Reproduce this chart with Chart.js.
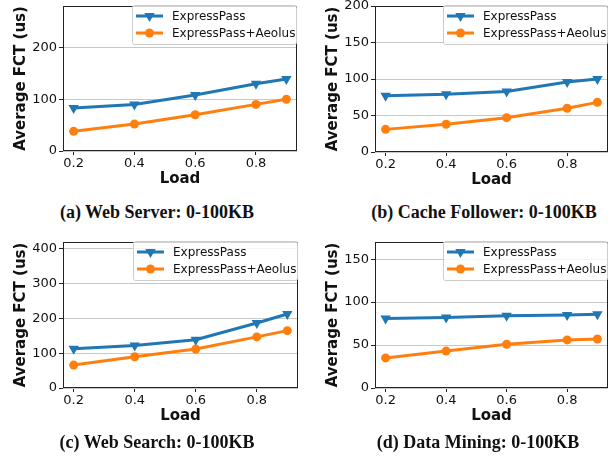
<!DOCTYPE html>
<html>
<head>
<meta charset="utf-8">
<script src="https://cdn.jsdelivr.net/npm/chart.js@4.4.0/dist/chart.umd.min.js"></script>
<style>
    body { margin: 0; background: #fff; width: 614px; height: 462px; position: relative; overflow: hidden; }
    .panel { position: absolute; width: 307px; height: 200px; }
    .caption {
        position: absolute; font-family: "Liberation Serif", serif; font-weight: bold;
        font-size: 18px; line-height: 20px; color: #111; white-space: nowrap; transform: translateX(-50%);
    }
</style>
</head>
<body>
<div class="panel" style="left:0;top:0"><canvas id="chartA" width="307" height="200"></canvas></div>
<div class="panel" style="left:307px;top:0"><canvas id="chartB" width="307" height="200"></canvas></div>
<div class="panel" style="left:0;top:236px"><canvas id="chartC" width="307" height="200"></canvas></div>
<div class="panel" style="left:307px;top:236px"><canvas id="chartD" width="307" height="200"></canvas></div>

<div class="caption" style="left:157px;top:202px">(a) Web Server: 0-100KB</div>
<div class="caption" style="left:484px;top:202px">(b) Cache Follower: 0-100KB</div>
<div class="caption" style="left:157px;top:432px">(c) Web Search: 0-100KB</div>
<div class="caption" style="left:478px;top:432px">(d) Data Mining: 0-100KB</div>

<script>
// x values and ticks (shared)
const loads = [0.2, 0.4, 0.6, 0.8, 0.9];
const xTicks = [0.2, 0.4, 0.6, 0.8];
const xTickLabels = ["0.2", "0.4", "0.6", "0.8"];
const seriesNames = ["ExpressPass", "ExpressPass+Aeolus"];

// (a) Web Server
const webServerEP = [83, 90, 108, 130, 139];
const webServerAeolus = [38, 52, 70, 90, 100];
const webServerTicks = [0, 100, 200];

// (b) Cache Follower
const cacheEP = [77, 79, 83, 96, 100];
const cacheAeolus = [31, 38, 47, 60, 68];
const cacheTicks = [0, 50, 100, 150, 200];

// (c) Web Search
const webSearchEP = [113, 122, 139, 187, 213];
const webSearchAeolus = [66, 90, 112, 147, 165];
const webSearchTicks = [0, 100, 200, 300, 400];

// (d) Data Mining
const miningEP = [81, 82, 84, 85, 86];
const miningAeolus = [35, 43, 51, 56, 57];
const miningTicks = [0, 50, 100, 150];

const BLUE = "#1f77b4";
const ORANGE = "#ff7f0e";
const FONT = "DejaVu Sans";

const frame = {
    id: "frame",
    beforeDatasetsDraw(chart) {
        const { ctx, chartArea: a } = chart;
        const l = Math.round(a.left) + 0.5, t = Math.round(a.top) + 0.5;
        const r = Math.round(a.right) - 0.5, b = Math.round(a.bottom) - 0.5;
        ctx.save();
        ctx.strokeStyle = "#222";
        ctx.lineWidth = 1;
        ctx.strokeRect(l, t, r - l, b - t);
        ctx.restore();
    }
};

function marker(ctx, style, x, y, r) {
    ctx.beginPath();
    if (style === "triangle") {
        ctx.moveTo(x - r * 0.866, y - r * 0.5);
        ctx.lineTo(x + r * 0.866, y - r * 0.5);
        ctx.lineTo(x, y + r);
        ctx.closePath();
    } else {
        ctx.arc(x, y, r, 0, Math.PI * 2);
    }
    ctx.fill();
}

const legendBox = {
    id: "legendBox",
    afterDraw(chart) {
        const { ctx, chartArea: a } = chart;
        const w = 165, h = 39;
        const x0 = Math.round(a.right - w), y0 = Math.round(a.top - 1);
        ctx.save();
        ctx.fillStyle = "rgba(255,255,255,0.8)";
        ctx.strokeStyle = "#cccccc";
        ctx.lineWidth = 1;
        ctx.beginPath();
        ctx.roundRect(x0 + 0.5, y0 + 0.5, w - 1, h, 2);
        ctx.fill();
        ctx.stroke();
        chart.data.datasets.forEach((ds, i) => {
            const y = Math.round(a.top + 10 + i * 17);
            ctx.strokeStyle = ds.borderColor;
            ctx.lineWidth = 3;
            ctx.beginPath();
            ctx.moveTo(x0 + 4, y);
            ctx.lineTo(x0 + 31, y);
            ctx.stroke();
            ctx.fillStyle = ds.borderColor;
            marker(ctx, ds.pointStyle, x0 + 17.5, y, ds.pointRadius);
            ctx.fillStyle = "#111";
            ctx.font = "12px '" + FONT + "'";
            ctx.textBaseline = "middle";
            ctx.fillText(ds.label, x0 + 40, y + 1);
        });
        ctx.restore();
    }
};

function makePanel(id, epValues, aeolusValues, yTicks, yMax, area) {
    const H = 200;
    new Chart(document.getElementById(id), {
        type: "line",
        data: {
            datasets: [
                {
                    label: seriesNames[0],
                    data: loads.map((x, i) => ({ x: x, y: epValues[i] })),
                    borderColor: BLUE,
                    backgroundColor: BLUE,
                    borderWidth: 3,
                    pointStyle: "triangle",
                    pointRotation: 180,
                    pointRadius: 6,
                    pointBorderWidth: 0
                },
                {
                    label: seriesNames[1],
                    data: loads.map((x, i) => ({ x: x, y: aeolusValues[i] })),
                    borderColor: ORANGE,
                    backgroundColor: ORANGE,
                    borderWidth: 3,
                    pointStyle: "circle",
                    pointRadius: 4.5,
                    pointBorderWidth: 0
                }
            ]
        },
        options: {
            responsive: false,
            animation: false,
            layout: { padding: { left: 0, top: area.top, right: 307 - area.right, bottom: 0 } },
            plugins: { legend: { display: false }, tooltip: { enabled: false } },
            scales: {
                x: {
                    type: "linear",
                    min: 0.165,
                    max: 0.935,
                    afterBuildTicks: s => { s.ticks = xTicks.map(v => ({ value: v })); },
                    afterFit: s => { s.height = H - area.bottom; s.paddingLeft = 0; s.paddingRight = 0; },
                    grid: { drawOnChartArea: false, drawTicks: true, tickLength: 4, tickColor: "#222" },
                    border: { display: false },
                    ticks: {
                        color: "#111", padding: 1, maxRotation: 0, autoSkip: false,
                        font: { family: FONT, size: 13 },
                        callback: (v, i) => xTickLabels[i]
                    },
                    title: {
                        display: true, text: "Load", color: "#111",
                        font: { family: FONT, size: 15, weight: "bold" },
                        padding: { top: 0, bottom: H - area.bottom - 28 - 9 }
                    }
                },
                y: {
                    min: 0,
                    max: yMax,
                    afterBuildTicks: s => { s.ticks = yTicks.map(v => ({ value: v })); },
                    afterFit: s => { s.width = area.left; s.paddingTop = 0; s.paddingBottom = 0; },
                    grid: { color: "#c8c8c8", lineWidth: 1, tickLength: 4, tickColor: "#222" },
                    border: { display: false },
                    ticks: {
                        color: "#111", padding: 2,
                        font: { family: FONT, size: 13 },
                        callback: (v, i) => String(yTicks[i])
                    },
                    title: {
                        display: true, text: "Average FCT (us)", color: "#111",
                        font: { family: FONT, size: 15, weight: "bold" },
                        padding: { top: area.left - 42 - 9, bottom: 0 }
                    }
                }
            }
        },
        plugins: [frame, legendBox]
    });
}

makePanel("chartA", webServerEP, webServerAeolus, webServerTicks, 280, { left: 63, top: 3, right: 297, bottom: 151 });
makePanel("chartB", cacheEP, cacheAeolus, cacheTicks, 200, { left: 68, top: 5, right: 305, bottom: 152 });
makePanel("chartC", webSearchEP, webSearchAeolus, webSearchTicks, 420, { left: 63, top: 3, right: 298, bottom: 152 });
makePanel("chartD", miningEP, miningAeolus, miningTicks, 170, { left: 68, top: 3, right: 305, bottom: 152 });
</script>
</body>
</html>
